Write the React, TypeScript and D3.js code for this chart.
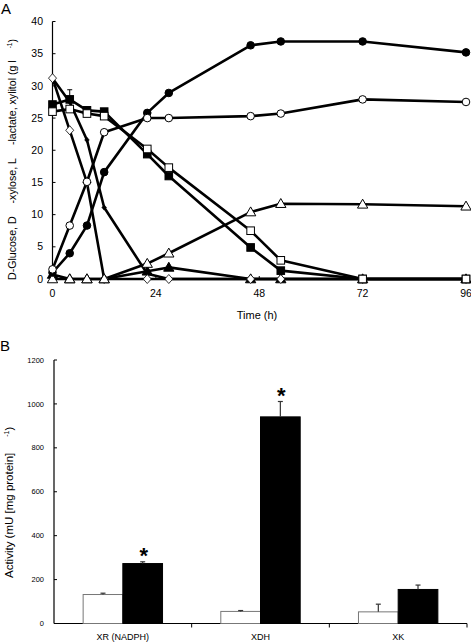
import React from "react";
import * as d3 from "d3";

// ---- Panel A data ----
const times = [0, 4, 8, 12, 22, 27, 46, 53, 72, 96];
const glucoseFilled = [31.2, 27.5, 21.6, 11.1, 0.8, 0, 0, 0, 0, 0];
const glucoseOpen = [31.2, 23.1, 15.0, 0, 0, 0, 0, 0, 0, 0];
const xyloseFilled = [27.1, 27.9, 26.2, 26.0, 19.4, 16.0, 4.9, 1.3, 0, 0];
const xyloseOpen = [26.0, 26.4, 25.7, 25.3, 20.2, 17.3, 7.5, 2.9, 0, 0];
const lactateFilled = [1.0, 4.0, 8.3, 16.6, 25.8, 28.9, 36.3, 36.9, 36.9, 35.2];
const lactateOpen = [1.5, 8.3, 15.1, 22.8, 25.0, 25.0, 25.3, 25.7, 27.9, 27.5];
const xylitolOpen = [0, 0, 0, 0, 2.4, 4.0, 10.4, 11.7, 11.6, 11.3];
const xylitolFilled = [0.7, 0, 0, 0, 1.2, 1.8, 0, 0, 0, 0];
const xErrTime = [4];
const xErrTop = [29.4];
const xErrBase = [27.9];
const xTicksA = [0, 24, 48, 72, 96];
const yTicksA = [0, 5, 10, 15, 20, 25, 30, 35, 40];

// ---- Panel B data ----
const enzymes = ["XR (NADPH)", "XDH", "XK"];
const strains = ["control", "engineered"];
const activityControl = [132, 55, 53];
const activityEngineered = [273, 941, 155];
const errControl = [6, 4, 35];
const errEngineered = [8, 70, 20];
const significant = [true, true, false];
const yTicksB = [0, 200, 400, 600, 800, 1000, 1200];

const FONT = "'Liberation Sans', Arial, sans-serif";

type Marker = "circle" | "square" | "triangle" | "diamond" | "smallDiamond";

function MarkerShape({ kind, filled, x, y }: { kind: Marker; filled: boolean; x: number; y: number }) {
  const fill = filled ? "#000" : "#fff";
  const stroke = "#000";
  const sw = 1;
  if (kind === "circle") return <circle cx={x} cy={y} r={3.8} fill={fill} stroke={stroke} strokeWidth={sw} />;
  if (kind === "square") return <rect x={x - 3.8} y={y - 3.8} width={7.6} height={7.6} fill={fill} stroke={stroke} strokeWidth={sw} />;
  if (kind === "triangle") {
    const p = d3.symbol(d3.symbolTriangle, 46)();
    return <path d={p as string} transform={`translate(${x},${y + 0.8})`} fill={fill} stroke={stroke} strokeWidth={sw} />;
  }
  if (kind === "diamond") {
    return <path d={`M${x},${y - 4.5}L${x + 4},${y}L${x},${y + 4.5}L${x - 4},${y}Z`} fill={fill} stroke={stroke} strokeWidth={0.8} />;
  }
  return <path d={`M${x},${y - 2.6}L${x + 2.3},${y}L${x},${y + 2.6}L${x - 2.3},${y}Z`} fill="#000" stroke="#000" strokeWidth={0.6} />;
}

export default function App() {
  const W = 471, H = 642;

  // Panel A scales
  const xA = d3.scaleLinear().domain([0, 96]).range([52.5, 466]);
  const yA = d3.scaleLinear().domain([0, 40]).range([279, 21.5]);
  const line = d3.line<number>().x((_, i) => xA(times[i])).y((v) => yA(v));

  const seriesA: { vals: number[]; kind: Marker; filled: boolean }[] = [
    { vals: xylitolFilled, kind: "triangle", filled: true },
    { vals: glucoseFilled, kind: "smallDiamond", filled: true },
    { vals: glucoseOpen, kind: "diamond", filled: false },
    { vals: xylitolOpen, kind: "triangle", filled: false },
    { vals: lactateFilled, kind: "circle", filled: true },
    { vals: lactateOpen, kind: "circle", filled: false },
    { vals: xyloseFilled, kind: "square", filled: true },
    { vals: xyloseOpen, kind: "square", filled: false },
  ];

  // Panel B scales
  const xB = d3.scaleBand<string>().domain(enzymes).range([54, 467]).paddingInner(0).paddingOuter(0);
  const xSub = d3.scaleBand<string>().domain(strains).range([0, xB.bandwidth()]).paddingInner(0).paddingOuter(0.734);
  const yB = d3.scaleLinear().domain([0, 1200]).range([623.5, 360]);

  return (
    <svg width={W} height={H} style={{ position: "absolute", left: 0, top: 0, background: "#fff" }} fontFamily={FONT}>
      <rect x={0} y={0} width={W} height={H} fill="#fff" />
      {/* ===== Panel A ===== */}
      <text x={1} y={14} fontSize={15} fill="#000">A</text>
      {/* axes */}
      <line x1={xA(0)} x2={xA(0)} y1={yA(40)} y2={yA(0)} stroke="#000" strokeWidth={1.2} />
      <line x1={xA(0)} x2={468} y1={yA(0)} y2={yA(0)} stroke="#000" strokeWidth={1.2} />
      {yTicksA.map((t) => (
        <g key={"ya" + t}>
          <line x1={xA(0)} x2={xA(0) + 3} y1={yA(t)} y2={yA(t)} stroke="#000" strokeWidth={1} />
          <text x={43} y={yA(t)} dy="0.35em" textAnchor="end" fontSize={10.5}>{t}</text>
        </g>
      ))}
      {xTicksA.map((t) => (
        <g key={"xa" + t}>
          <line x1={xA(t)} x2={xA(t)} y1={yA(0)} y2={yA(0) - 3} stroke="#000" strokeWidth={1} />
          <text x={xA(t)} y={297} textAnchor="middle" fontSize={10.5}>{t}</text>
        </g>
      ))}
      <text x={257} y={319} textAnchor="middle" fontSize={11}>Time (h)</text>
      <text transform={`translate(16,${yA(0) + 1}) rotate(-90)`} fontSize={10.6} textAnchor="start">
        <tspan>D-Glucose, D</tspan>
        <tspan dx={13}>-xylose, L</tspan>
        <tspan dx={13}>-lactate, xylitol (g l</tspan>
        <tspan dx={12} dy={-4} fontSize={6.5}>-1</tspan>
        <tspan dy={4}>)</tspan>
      </text>
      {/* lines */}
      {seriesA.map((s, i) => (
        <path key={"l" + i} d={line(s.vals) as string} fill="none" stroke="#000" strokeWidth={2.6} strokeLinejoin="round" />
      ))}
      {/* error bar */}
      {xErrTime.map((t, i) => (
        <g key={"ea" + i}>
          <line x1={xA(t)} x2={xA(t)} y1={yA(xErrBase[i])} y2={yA(xErrTop[i])} stroke="#000" strokeWidth={1} />
          <line x1={xA(t) - 2.5} x2={xA(t) + 2.5} y1={yA(xErrTop[i])} y2={yA(xErrTop[i])} stroke="#000" strokeWidth={1} />
        </g>
      ))}
      {/* markers */}
      {seriesA.map((s, i) => (
        <g key={"m" + i}>
          {s.vals.map((v, j) => (
            <MarkerShape key={j} kind={s.kind} filled={s.filled} x={xA(times[j])} y={yA(v)} />
          ))}
        </g>
      ))}

      {/* ===== Panel B ===== */}
      <text x={0} y={351} fontSize={15} fill="#000">B</text>
      <line x1={54} x2={54} y1={yB(1200)} y2={yB(0)} stroke="#000" strokeWidth={1.2} />
      <line x1={54} x2={467} y1={yB(0)} y2={yB(0)} stroke="#000" strokeWidth={1.2} />
      {yTicksB.map((t) => (
        <g key={"yb" + t}>
          <line x1={54} x2={57} y1={yB(t)} y2={yB(t)} stroke="#000" strokeWidth={1} />
          <text x={44} y={yB(t)} dy="0.35em" textAnchor="end" fontSize={7.5}>{t}</text>
        </g>
      ))}
      {enzymes.map((e) => (
        <g key={"xb" + e}>
          <line x1={(xB(e) as number) + xB.bandwidth()} x2={(xB(e) as number) + xB.bandwidth()} y1={yB(0)} y2={yB(0) + 4} stroke="#000" strokeWidth={1} />
          <text x={(xB(e) as number) + xB.bandwidth() / 2} y={640} textAnchor="middle" fontSize={9}>{e}</text>
        </g>
      ))}
      <text transform={`translate(13,${578}) rotate(-90)`} fontSize={11.5} textAnchor="start">
        <tspan>Activity (mU [mg protein]</tspan>
        <tspan dx={16} dy={-4} fontSize={7}>-1</tspan>
        <tspan dy={4}>)</tspan>
      </text>
      {enzymes.map((e, i) => {
        const x0 = xB(e) as number;
        const xc = x0 + (xSub("control") as number);
        const xe = x0 + (xSub("engineered") as number);
        const bw = xSub.bandwidth();
        return (
          <g key={"bars" + e}>
            <rect x={xc} y={yB(activityControl[i])} width={bw} height={yB(0) - yB(activityControl[i])} fill="#fff" stroke="#777" strokeWidth={1} />
            <rect x={xe} y={yB(activityEngineered[i])} width={bw} height={yB(0) - yB(activityEngineered[i])} fill="#000" stroke="#000" strokeWidth={1} />
            <line x1={xc + bw / 2} x2={xc + bw / 2} y1={yB(activityControl[i])} y2={yB(activityControl[i] + errControl[i])} stroke="#333" strokeWidth={1.2} />
            <line x1={xc + bw / 2 - 2.5} x2={xc + bw / 2 + 2.5} y1={yB(activityControl[i] + errControl[i])} y2={yB(activityControl[i] + errControl[i])} stroke="#333" strokeWidth={1.2} />
            <line x1={xe + bw / 2} x2={xe + bw / 2} y1={yB(activityEngineered[i])} y2={yB(activityEngineered[i] + errEngineered[i])} stroke="#333" strokeWidth={1.2} />
            <line x1={xe + bw / 2 - 2.5} x2={xe + bw / 2 + 2.5} y1={yB(activityEngineered[i] + errEngineered[i])} y2={yB(activityEngineered[i] + errEngineered[i])} stroke="#333" strokeWidth={1.2} />
            {significant[i] && (
              <text x={xe + bw / 2 + 1} y={yB(activityEngineered[i] + errEngineered[i]) + 1} textAnchor="middle" fontSize={22} fontWeight="bold">*</text>
            )}
          </g>
        );
      })}
    </svg>
  );
}
